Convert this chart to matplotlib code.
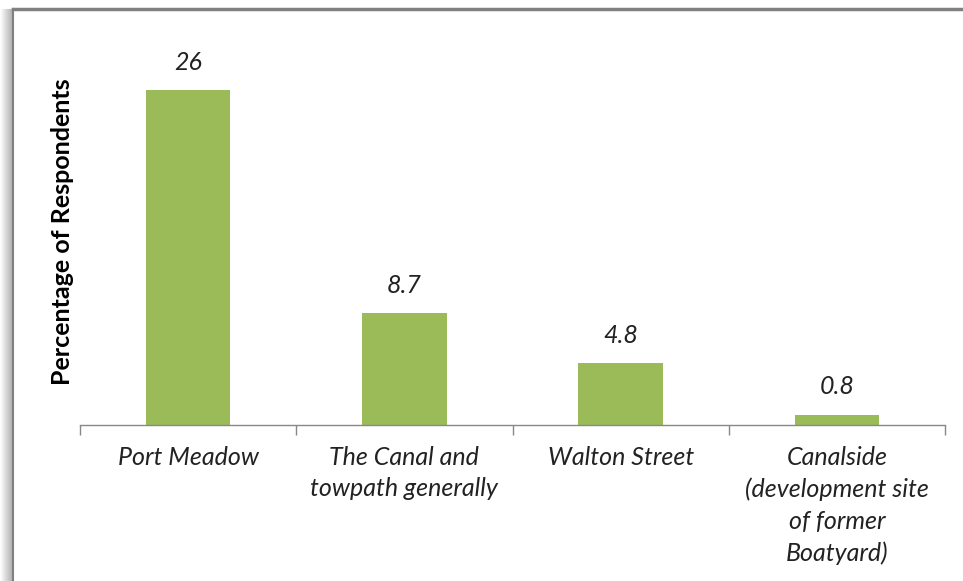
import matplotlib
matplotlib.use("Agg")
import matplotlib.pyplot as plt
from matplotlib.lines import Line2D

# data
categories = ["Port Meadow", "The Canal and\ntowpath generally", "Walton Street",
              "Canalside\n(development site\nof former\nBoatyard)"]
values = [26, 8.7, 4.8, 0.8]
value_labels = ["26", "8.7", "4.8", "0.8"]

plt.rcParams["font.family"] = ["Lato", "DejaVu Sans"]

W, H = 963, 581
fig = plt.figure(figsize=(W / 100, H / 100), dpi=100)
fig.patch.set_facecolor("white")

# frame with soft shadow (top and left edges)
for i in range(12):
    a = 0.04 + 0.05 * i
    x = (i + 0.5) / W
    fig.add_artist(Line2D([x, x], [0, 1 - 9 / H], transform=fig.transFigure,
                          color="#7f7f7f", alpha=min(a, 0.6), lw=0.8))
fig.add_artist(Line2D([12.5 / W, 12.5 / W], [0, 1 - 8.5 / H], transform=fig.transFigure,
                      color="#808080", lw=1.5))
fig.add_artist(Line2D([12.5 / W, 1], [1 - 9 / H, 1 - 9 / H], transform=fig.transFigure,
                      color="#808080", lw=2.5))

ax = fig.add_axes([80 / W, (H - 425) / H, (945 - 80) / W, (425 - 39) / H])
x = list(range(len(categories)))
bars = ax.bar(x, values, width=0.39, color="#9BBB59")

ax.set_xlim(-0.5, len(categories) - 0.5)
ax.set_ylim(0, 30)

for b, lab in zip(bars, value_labels):
    ax.annotate(lab, (b.get_x() + b.get_width() / 2, b.get_height()),
                xytext=(0, 20), textcoords="offset points", ha="center", va="center",
                fontsize=18, style="italic", color="#222222")

for s in ["top", "right", "left"]:
    ax.spines[s].set_visible(False)
ax.spines["bottom"].set_color("#888888")
ax.spines["bottom"].set_linewidth(1.0)
ax.set_yticks([])

ax.set_xticks([i - 0.5 for i in range(len(categories) + 1)], minor=False)
ax.set_xticklabels([])
ax.tick_params(axis="x", which="major", length=7, color="#888888", width=1)
ax.set_xticks(x, minor=True)
ax.set_xticklabels(categories, minor=True, fontsize=18, style="italic",
                   color="#222222", linespacing=1.45)
ax.tick_params(axis="x", which="minor", length=0, pad=15)

ax.set_ylabel("Percentage of Respondents", fontsize=18, fontweight="bold",
              color="black", labelpad=4)

fig.savefig("out.png", dpi=100, facecolor="white")
